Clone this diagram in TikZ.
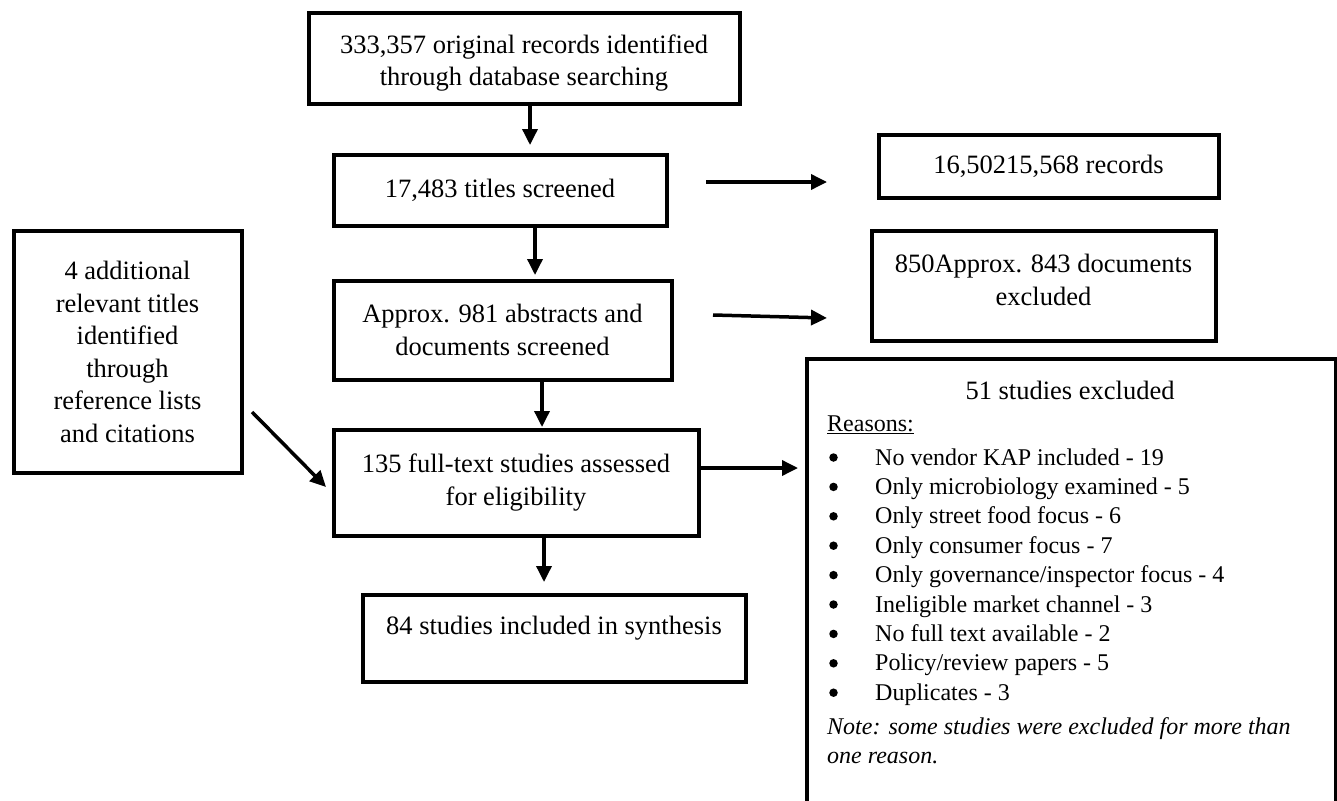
\documentclass[tikz,border=0pt]{standalone}
\usepackage{fontspec}
\setmainfont{Liberation Serif}
\usetikzlibrary{arrows.meta}
\begin{document}
\begin{tikzpicture}[x=1pt,y=-1pt,
  box/.style={draw, line width=4pt, inner sep=0pt, align=center, font=\fontsize{26.5}{32.5}\selectfont},
  txt/.style={inner sep=0pt, align=center, font=\fontsize{26.5}{32.5}\selectfont},
  arr/.style={line width=3.5pt, -{Triangle[length=16pt,width=15pt]}},
  hd/.style={font=\fontsize{26.5}{32}\selectfont, inner sep=0pt, anchor=base},
  lst/.style={font=\fontsize{24}{29}\selectfont, inner sep=0pt, anchor=base west},
  bul/.style={circle, fill, inner sep=0pt, minimum size=8.5pt}]
\useasboundingbox (0,0) rectangle (1337,800);

% main column
\node[box, minimum width=431pt, minimum height=90pt] (b1) at (524,58.5) {};
\node[txt] (t1) at (524,63) {333,357 original records identified\\through database searching};
\node[box, minimum width=333pt, minimum height=71pt] (b2) at (500,190) {17,483 titles screened};
\node[box, minimum width=338pt, minimum height=99pt] (b4) at (502.5,330) {Approx. 981 abstracts and\\documents screened};
\node[box, minimum width=365pt, minimum height=106pt] (b7) at (516,482.5) {135 full-text studies assessed\\for eligibility};
\node[box, minimum width=383pt, minimum height=87pt] (b8) at (554,638) {};
\node[txt] (t8) at (554,628) {84 studies included in synthesis};

% left box
\node[box, minimum width=228pt, minimum height=242pt] (bl) at (127.5,352) {4 additional\\relevant titles\\identified\\through\\reference lists\\and citations};

% right boxes
\node[box, minimum width=340pt, minimum height=63pt] (b3) at (1048.5,166) {16,50215,568 records};
\node[box, minimum width=344pt, minimum height=110pt] (b5) at (1043.5,285.5) {};
\node[txt] (t5) at (1043.5,280) {850Approx. 843 documents\\excluded};
\node[draw, line width=4pt, inner sep=0pt, minimum width=529pt, minimum height=470pt, anchor=north west] (b6) at (805,357) {};

% contents of exclusion box
\node[hd] (h6) at (1070,399) {51 studies excluded};
\node[lst] (rs) at (827,431) {\underline{Reasons:}};
\foreach \t [count=\i from 0] in {No vendor KAP included - 19, Only microbiology examined - 5, Only street food focus - 6, Only consumer focus - 7, Only governance/inspector focus - 4, Ineligible market channel - 3, No full text available - 2, Policy/review papers - 5, Duplicates - 3}{
  \node[bul] (d\i) at (833.5,457.5+29.4*\i) {};
  \node[lst] (l\i) at (875,465+29.4*\i) {\t};
}
\node[lst] (n1) at (827,734) {\itshape Note: some studies were excluded for more than};
\node[lst] (n2) at (827,763) {\itshape one reason.};

% connectors
\coordinate (a1e) at (530,145);
\coordinate (a2e) at (535,275);
\coordinate (a3e) at (542,427);
\coordinate (a4e) at (544,582);
\draw[arr] (b1.south -| a1e) -- (a1e);
\draw[arr] (b2.south -| a2e) -- (a2e);
\draw[arr] (b4.south -| a3e) -- (a3e);
\draw[arr] (b7.south -| a4e) -- (a4e);

\coordinate (r1s) at (706,182);
\coordinate (r1e) at (827,182);
\draw[arr] (r1s) -- (r1e);
\coordinate (r2s) at (713,315);
\coordinate (r2e) at (827,318);
\draw[arr] (r2s) -- (r2e);
\coordinate (r3e) at (798,468);
\draw[arr] (b7.east |- r3e) -- (r3e);
\coordinate (dgs) at (252,412);
\coordinate (dge) at (326,487);
\draw[arr] (dgs) -- (dge);
\end{tikzpicture}
\end{document}
